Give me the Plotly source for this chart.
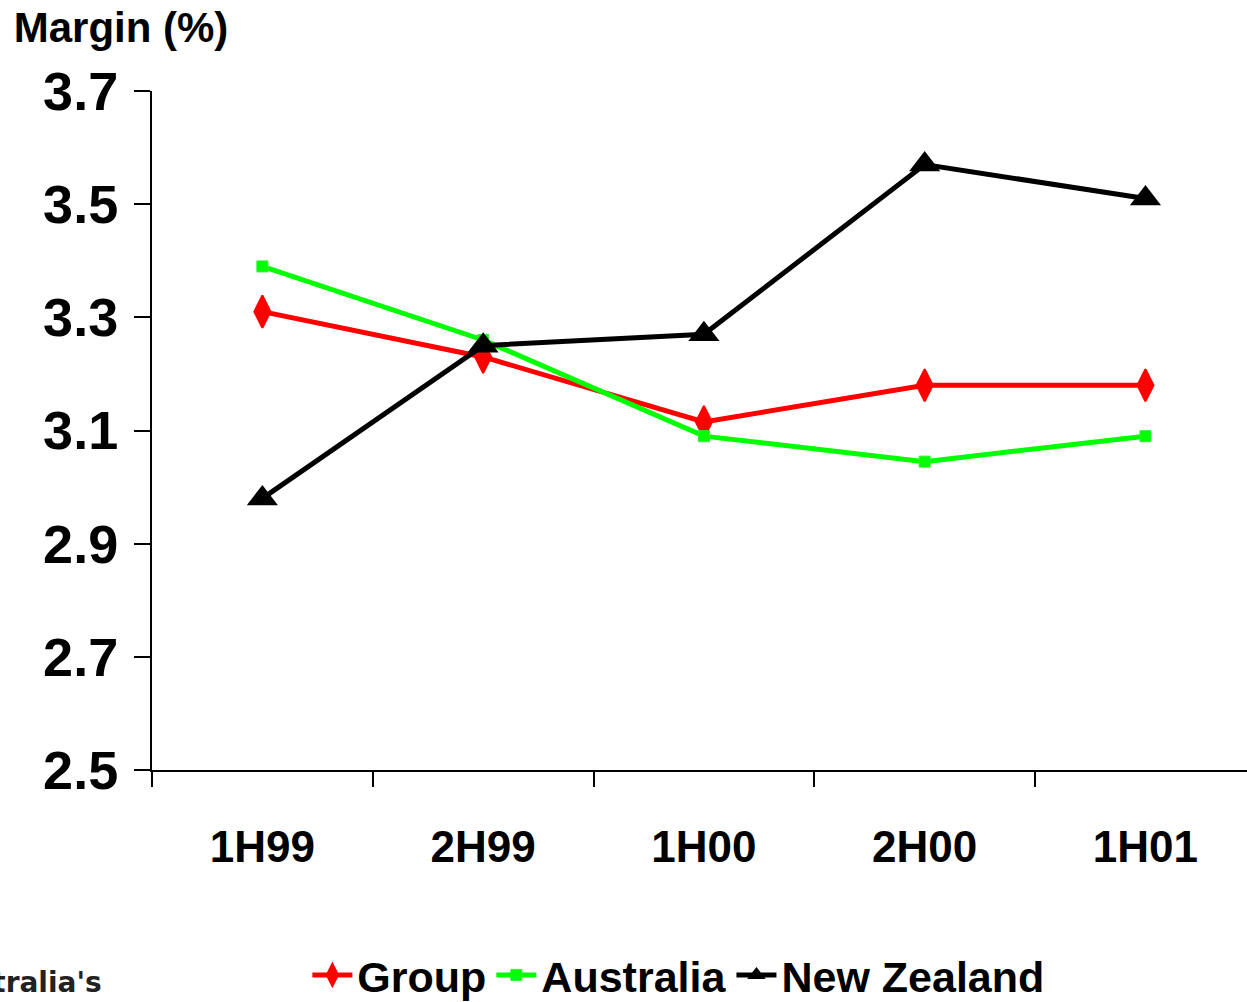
import plotly.graph_objects as go

# Net interest margin by half-year
periods = ["1H99", "2H99", "1H00", "2H00", "1H01"]
group = [3.31, 3.23, 3.115, 3.18, 3.18]
australia = [3.39, 3.26, 3.09, 3.045, 3.09]
new_zealand = [2.98, 3.25, 3.27, 3.57, 3.51]
y_ticks = [2.5, 2.7, 2.9, 3.1, 3.3, 3.5, 3.7]

FONT = "Liberation Sans, Arial, sans-serif"

xs = list(range(len(periods)))

fig = go.Figure()
fig.add_trace(go.Scatter(
    x=xs, y=group, name="Group", mode="lines+markers",
    line=dict(color="#FF0000", width=5),
    marker=dict(symbol="diamond-tall", size=23, color="#FF0000",
                line=dict(color="#FF0000", width=2)),
))
fig.add_trace(go.Scatter(
    x=xs, y=australia, name="Australia", mode="lines+markers",
    line=dict(color="#00FF00", width=5),
    marker=dict(symbol="square", size=11, color="#00FF00",
                line=dict(color="#33EE33", width=1)),
))
fig.add_trace(go.Scatter(
    x=xs, y=new_zealand, name="New Zealand", mode="lines+markers",
    line=dict(color="#000000", width=5),
    marker=dict(symbol="triangle-up", size=27, color="#000000"),
))

fig.update_layout(
    width=1247, height=1002,
    margin=dict(l=152, r=0, t=91, b=232),
    paper_bgcolor="white", plot_bgcolor="white",
    showlegend=True,
    title=dict(text="<b>Margin (%)</b>", xref="container", yref="container",
               x=0.011, y=0.973, xanchor="left", yanchor="middle",
               font=dict(family=FONT, size=42, color="black")),
    legend=dict(orientation="h", xref="container", yref="container",
                x=0.544, y=0.027, xanchor="center", yanchor="middle",
                font=dict(family=FONT, size=43, color="black", weight="bold"),
                itemwidth=40, tracegroupgap=0, bgcolor="rgba(0,0,0,0)"),
    xaxis=dict(
        range=[-0.5, 4.46], tickmode="array", tickvals=xs,
        ticktext=["<b>%s</b>" % p for p in periods],
        ticks="", ticklabelstandoff=37, automargin=False,
        tickfont=dict(family=FONT, size=44, color="black"),
        showline=True, linecolor="black", linewidth=2,
        showgrid=False, zeroline=False,
        minor=dict(ticks="outside", ticklen=15, tickwidth=2, tickcolor="black",
                   tick0=-0.5, dtick=1, showgrid=False),
    ),
    yaxis=dict(
        range=[2.5, 3.7], tickmode="array", tickvals=y_ticks,
        ticktext=["<b>%.1f</b>" % v for v in y_ticks],
        ticks="outside", ticklen=16, tickwidth=2, tickcolor="black",
        ticklabelstandoff=5, automargin=False,
        tickfont=dict(family=FONT, size=54, color="black"),
        showline=True, linecolor="black", linewidth=2,
        showgrid=False, zeroline=False,
    ),
)

# Bank wordmark in the lower-left corner
fig.add_annotation(text="<b>Australia's</b>", xref="paper", yref="paper",
                   x=(104 - 152) / 1095, y=-(982 - 770) / 679,
                   xanchor="right", yanchor="middle", showarrow=False,
                   font=dict(family="DejaVu Sans, Verdana, sans-serif", size=28, color="#222222"))

fig.write_html("out.html")
